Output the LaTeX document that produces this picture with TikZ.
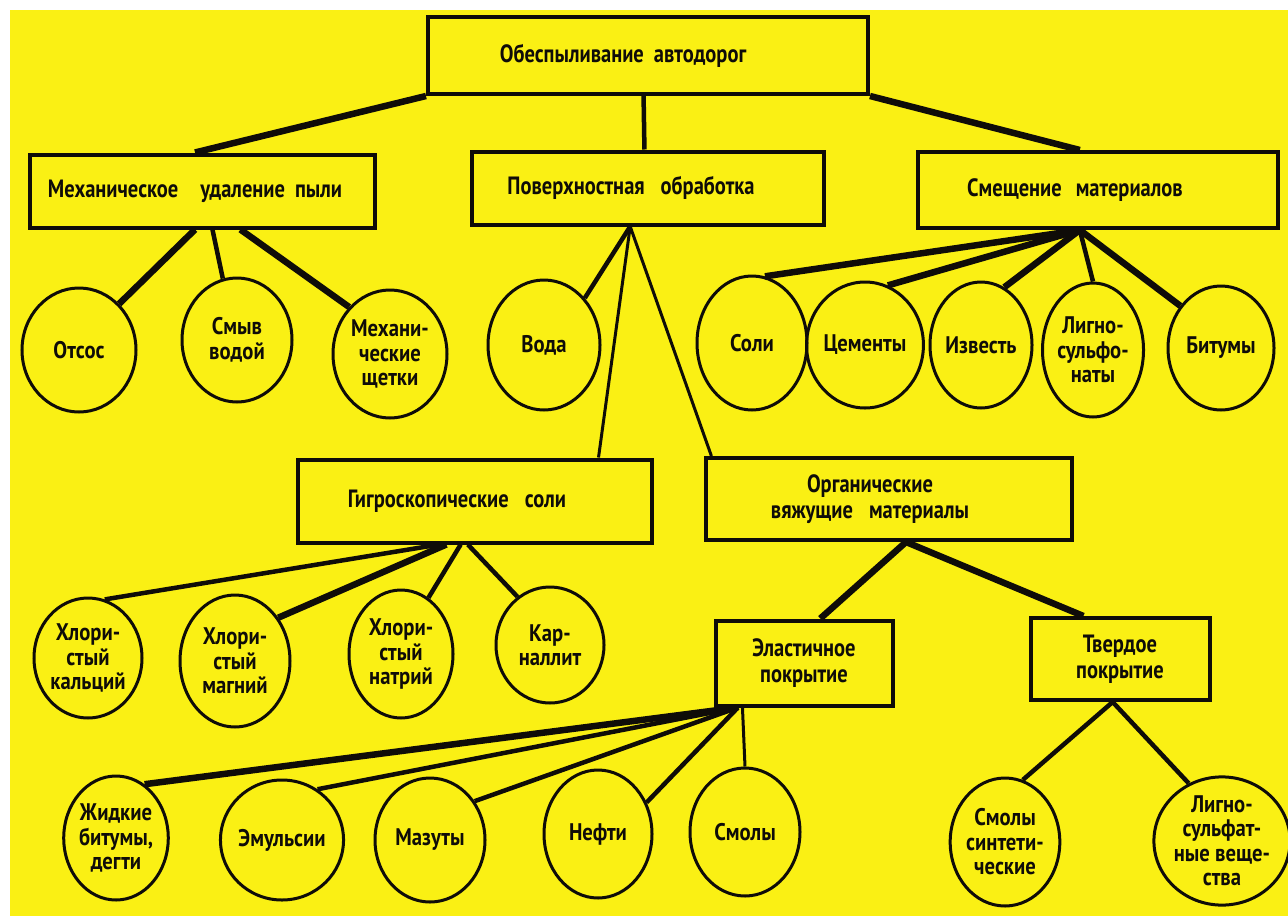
\documentclass[tikz,border=0pt]{standalone}
\usepackage{fontspec}
\newfontfamily\lab{PT Sans}[FakeStretch=0.82]
\newfontfamily\labc{PT Sans}[FakeStretch=0.86]
\usetikzlibrary{shapes.geometric,calc}
\definecolor{bg}{RGB}{250,240,20}
\definecolor{ink}{RGB}{15,12,8}
\begin{document}
\begin{tikzpicture}[x=1pt,y=-1pt,
  box/.style={draw=ink,line width=4pt,rectangle,inner sep=0pt,align=center,
    font=\lab\bfseries\fontsize{25}{26}\selectfont,text=ink},
  circ/.style={draw=ink,line width=3pt,ellipse,inner sep=0pt,align=center,
    font=\labc\bfseries\fontsize{24}{24.5}\selectfont,text=ink},
  conn/.style={draw=ink,line width=6.5pt},
  thin/.style={draw=ink,line width=4.5pt},
  hair/.style={draw=ink,line width=3pt}]
\useasboundingbox (0,0) rectangle (1288,916);
\fill[white] (0,0) rectangle (1288,916);
\fill[bg] (10,10) rectangle (1288,916);

% boxes
\node[box,minimum width=440pt,minimum height=77pt] (root) at (648,55.5) {Обеспыливание\hspace{10pt}автодорог\hspace*{50pt}};
\node[box,minimum width=345pt,minimum height=73pt] (mech) at (202,191) {Механическое\hspace{22pt}удаление\hspace{10pt}пыли\hspace*{14pt}};
\node[box,minimum width=352pt,minimum height=73pt] (surf) at (648,188) {Поверхностная\hspace{16pt}обработка\hspace*{34pt}};
\node[box,minimum width=360pt,minimum height=76pt] (mix) at (1098,190) {Смещение\hspace{14pt}материалов\hspace*{46pt}};
\node[box,minimum width=354pt,minimum height=83pt] (gigro) at (475,501) {Гигроскопические\hspace{16pt}соли\hspace*{36pt}};
\node[box,minimum width=366pt,minimum height=82pt] (org) at (889,499) {Органические\hspace*{38pt}\\вяжущие\hspace{16pt}материалы\hspace*{38pt}};
\node[box,minimum width=177pt,minimum height=85pt] (elast) at (804,663) {Эластичное\\покрытие};
\node[box,minimum width=179pt,minimum height=82pt] (hard) at (1120,659) {Твердое\\покрытие};

% row 1 circles
\node[circ,minimum width=114pt,minimum height=124pt] (otsos) at (79,350) {Отсос};
\node[circ,minimum width=110pt,minimum height=124pt] (smyv) at (237,340) {Смыв\\водой};
\node[circ,minimum width=114pt,minimum height=128pt] (shch) at (390,354) {Механи-\\ческие\\щетки};
\node[circ,minimum width=112pt,minimum height=130pt] (voda) at (544,345) {Вода};
\node[circ,minimum width=110pt,minimum height=134pt] (soli) at (752,343) {Соли};
\node[circ,minimum width=106pt,minimum height=126pt] (cem) at (865,345) {Цементы};
\node[circ,minimum width=102pt,minimum height=126pt] (izv) at (981,345) {Известь};
\node[circ,minimum width=96pt,minimum height=134pt] (lig) at (1093,350) {Лигно-\\сульфо-\\наты};
\node[circ,minimum width=106pt,minimum height=124pt] (bit) at (1221,348) {Битумы};

% row 2 circles
\node[circ,minimum width=108pt,minimum height=120pt] (hca) at (88,658) {Хлори-\\стый\\кальций};
\node[circ,minimum width=110pt,minimum height=132pt] (hmg) at (235,661) {Хлори-\\стый\\магний};
\node[circ,minimum width=104pt,minimum height=128pt] (hna) at (401,654) {Хлори-\\стый\\натрий};
\node[circ,minimum width=108pt,minimum height=116pt] (karn) at (550,645) {Кар-\\наллит};

% row 3 circles
\node[circ,minimum width=100pt,minimum height=124pt] (zhid) at (116,838) {Жидкие\\битумы,\\дегти};
\node[circ,minimum width=108pt,minimum height=120pt] (emul) at (282,840) {Эмульсии};
\node[circ,minimum width=110pt,minimum height=124pt] (maz) at (430,840) {Мазуты};
\node[circ,minimum width=108pt,minimum height=128pt] (neft) at (598,834) {Нефти};
\node[circ,minimum width=110pt,minimum height=128pt] (smol) at (745,832) {Смолы};
\node[circ,minimum width=102pt,minimum height=128pt] (ssyn) at (1005,842) {Смолы\\синтети-\\ческие};
\node[circ,minimum width=110pt,minimum height=128pt] (lig2) at (1222,841) {Лигно-\\сульфат-\\ные веще-\\ства};

% connectors from root
\draw[conn] (root.south west) -- ($(mech.north west)!0.48!(mech.north east)$);
\draw[thin] ($(root.south west)!0.49!(root.south east)$) -- ($(surf.north west)!0.49!(surf.north east)$);
\draw[conn] (root.south east) -- ($(mix.north west)!0.45!(mix.north east)$);

% mech
\draw[conn] ($(mech.south west)!0.48!(mech.south east)$) -- (otsos.49);
\draw[thin] ($(mech.south west)!0.53!(mech.south east)$) -- (smyv.103);
\draw[conn] ($(mech.south west)!0.61!(mech.south east)$) -- (shch.131);

% surface
\draw[thin] ($(surf.south west)!0.45!(surf.south east)$) -- (voda.49);
\draw[hair] ($(surf.south west)!0.45!(surf.south east)$) -- ($(gigro.north west)!0.845!(gigro.north east)$);
\draw[hair] ($(surf.south west)!0.45!(surf.south east)$) -- ($(org.north west)!0.02!(org.north east)$);

% mix
\draw[conn] ($(mix.south west)!0.45!(mix.south east)$) -- (soli.79);
\draw[conn] ($(mix.south west)!0.45!(mix.south east)$) -- (cem.69);
\draw[conn] ($(mix.south west)!0.45!(mix.south east)$) -- (izv.68);
\draw[thin] ($(mix.south west)!0.45!(mix.south east)$) -- (lig.90);
\draw[conn] ($(mix.south west)!0.45!(mix.south east)$) -- (bit.134);

% gigro
\draw[thin] ($(gigro.south west)!0.40!(gigro.south east)$) -- (hca.74);
\draw[conn] ($(gigro.south west)!0.42!(gigro.south east)$) -- (hmg.45);
\draw[thin] ($(gigro.south west)!0.46!(gigro.south east)$) -- (hna.64);
\draw[thin] ($(gigro.south west)!0.48!(gigro.south east)$) -- (karn.124);

% organic
\draw[conn] ($(org.south west)!0.546!(org.south east)$) -- ($(elast.north west)!0.59!(elast.north east)$);
\draw[conn] ($(org.south west)!0.546!(org.south east)$) -- ($(hard.north west)!0.30!(hard.north east)$);

% elastic
\draw[conn] ($(elast.south west)!0.135!(elast.south east)$) -- (zhid.62);
\draw[thin] ($(elast.south west)!0.135!(elast.south east)$) -- (emul.55);
\draw[thin] ($(elast.south west)!0.135!(elast.south east)$) -- (maz.41);
\draw[thin] ($(elast.south west)!0.135!(elast.south east)$) -- (neft.33);
\draw[hair] ($(elast.south west)!0.16!(elast.south east)$) -- (smol.90);

% hard
\draw[thin] ($(hard.south west)!0.46!(hard.south east)$) -- (ssyn.74);
\draw[thin] ($(hard.south west)!0.46!(hard.south east)$) -- (lig2.120);
\end{tikzpicture}
\end{document}
